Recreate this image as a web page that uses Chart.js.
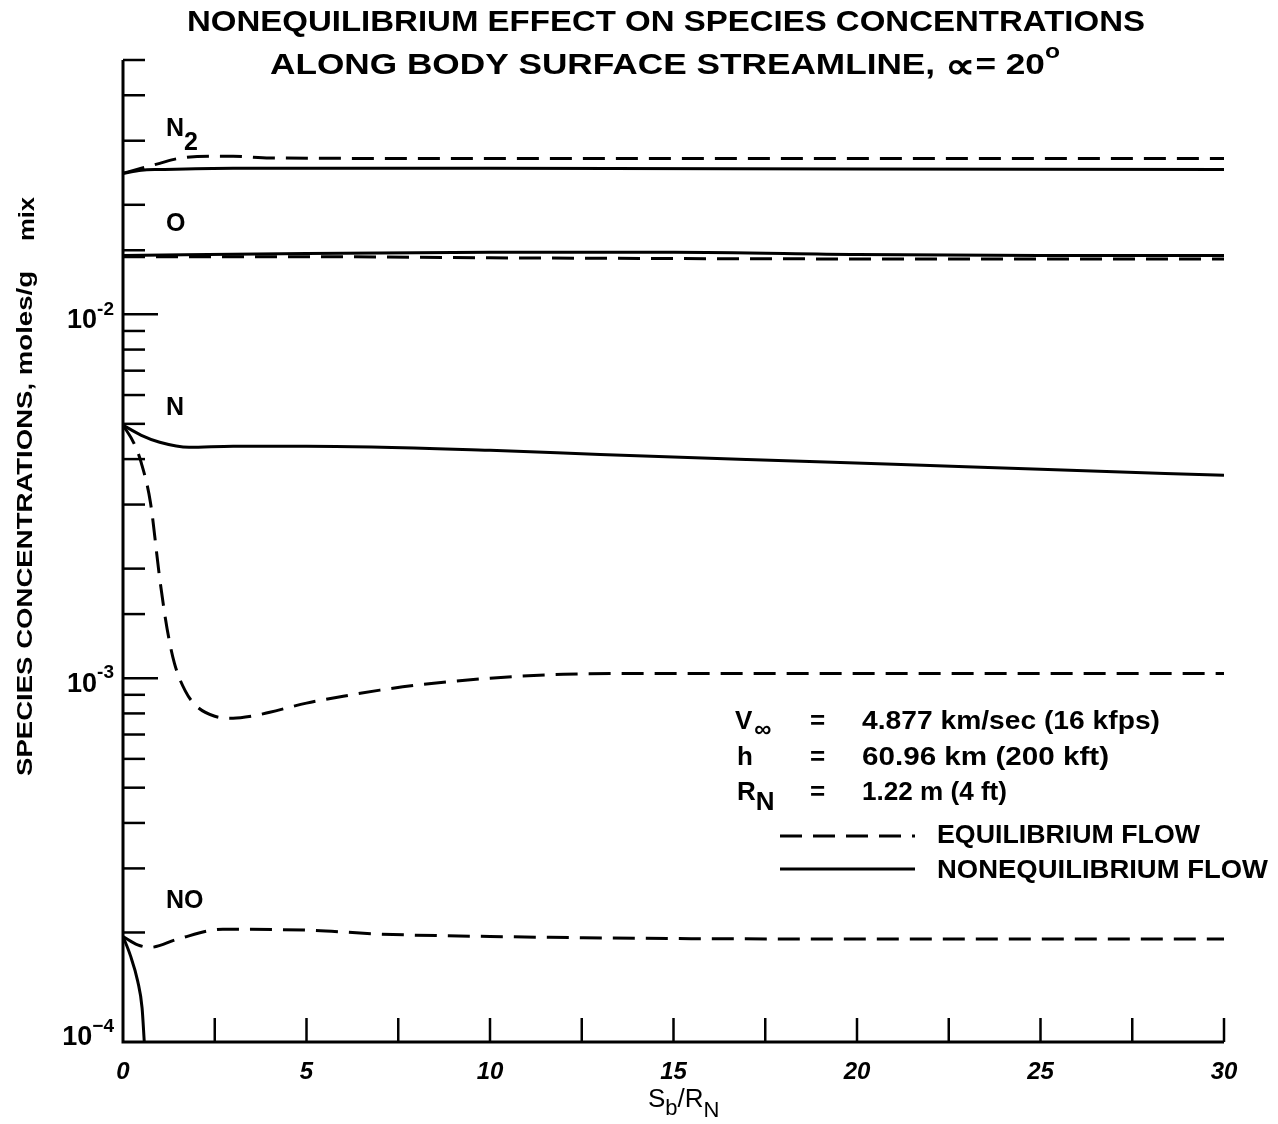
<!DOCTYPE html>
<html>
<head>
<meta charset="utf-8">
<script src="https://cdn.jsdelivr.net/npm/chart.js@4"></script>
<style>
  html, body { margin: 0; padding: 0; background: #fff; }
  #wrap { width: 1278px; height: 1124px; }
</style>
</head>
<body>
<div id="wrap"><canvas id="chart" width="1278" height="1124"></canvas></div>
<script>
// S_b/R_N positions and concentrations (moles/g mix)
const X_N2_EQ = [0, 0.5, 1, 1.5, 2.5, 3, 4, 10, 20, 30];
const Y_N2_EQ = [2.44e-2, 2.52e-2, 2.60e-2, 2.68e-2, 2.72e-2, 2.72e-2, 2.69e-2, 2.68e-2, 2.68e-2, 2.68e-2];
const X_N2_NEQ = [0, 0.5, 1, 3, 10, 20, 30];
const Y_N2_NEQ = [2.44e-2, 2.49e-2, 2.50e-2, 2.52e-2, 2.52e-2, 2.51e-2, 2.50e-2];

const X_O_EQ = [0, 5, 10, 20, 30];
const Y_O_EQ = [1.44e-2, 1.44e-2, 1.43e-2, 1.42e-2, 1.42e-2];
const X_O_NEQ = [0, 5, 10, 15, 20, 25, 30];
const Y_O_NEQ = [1.45e-2, 1.47e-2, 1.48e-2, 1.48e-2, 1.46e-2, 1.45e-2, 1.45e-2];

const X_N_EQ = [0, 0.3, 0.5, 0.75, 1.0, 1.2, 1.4, 1.7, 2.0, 2.5, 3.0, 3.5, 4, 5, 6, 7, 8, 10, 12, 14, 20, 30];
const Y_N_EQ = [4.96e-3, 4.42e-3, 3.90e-3, 3.03e-3, 1.88e-3, 1.37e-3, 1.10e-3, 9.21e-4, 8.38e-4, 7.86e-4, 7.76e-4,
                7.86e-4, 8.06e-4, 8.54e-4, 8.92e-4, 9.27e-4, 9.57e-4, 1.0e-3, 1.025e-3, 1.03e-3, 1.03e-3, 1.03e-3];
const X_N_NEQ = [0, 0.5, 1, 1.8, 3, 5, 10, 13, 17, 21, 25, 30];
const Y_N_NEQ = [4.96e-3, 4.65e-3, 4.45e-3, 4.31e-3, 4.34e-3, 4.34e-3, 4.23e-3, 4.12e-3, 3.99e-3, 3.87e-3, 3.75e-3, 3.61e-3];

const X_NO_EQ = [0, 0.4, 0.74, 1.5, 2.72, 5, 7, 10, 18, 30];
const Y_NO_EQ = [1.95e-4, 1.85e-4, 1.82e-4, 1.92e-4, 2.04e-4, 2.03e-4, 1.98e-4, 1.95e-4, 1.92e-4, 1.92e-4];
const X_NO_NEQ = [0, 0.2, 0.4, 0.52, 0.58];
const Y_NO_NEQ = [1.95e-4, 1.73e-4, 1.47e-4, 1.24e-4, 1.0e-4];

const X_TICKS = [0, 5, 10, 15, 20, 25, 30];
const Y_DECADES = [1e-4, 1e-3, 1e-2];
const Y_EXPONENTS = ["\u22124", "-3", "-2"];

const FONT = '"Liberation Sans", Arial, Helvetica, sans-serif';
const DASH = [22, 11];

const pts = (xs, ys) => xs.map((x, i) => ({ x, y: ys[i] }));

const line = (xs, ys, eq) => ({
  data: pts(xs, ys),
  borderColor: "#000",
  borderWidth: 3,
  borderDash: eq ? DASH : [],
  pointRadius: 0,
  fill: false,
  cubicInterpolationMode: "monotone",
});

// text with sub/superscript pieces: [text, size, dy, dx]
function drawRuns(ctx, runs, x, y, weight, style) {
  let cx = x;
  runs.forEach(([t, size, dy, dx]) => {
    ctx.font = `${style || ""} ${weight} ${size}px ${FONT}`;
    cx += dx || 0;
    ctx.fillText(t, cx, y + (dy || 0));
    cx += ctx.measureText(t).width;
  });
  return cx;
}

function runsWidth(ctx, runs, weight, style) {
  let w = 0;
  runs.forEach(([t, size, dy, dx]) => {
    ctx.font = `${style || ""} ${weight} ${size}px ${FONT}`;
    w += ctx.measureText(t).width + (dx || 0);
  });
  return w;
}

// draw runs squeezed/stretched to a given width
function drawFit(ctx, runs, x, y, width, weight, style) {
  const sx = width / runsWidth(ctx, runs, weight, style);
  ctx.save();
  ctx.translate(x, y);
  ctx.scale(sx, 1);
  drawRuns(ctx, runs, 0, 0, weight, style);
  ctx.restore();
}

const decor = {
  id: "decor",
  afterDraw(chart) {
    const { ctx, chartArea: a, scales } = chart;
    const xs = scales.x, ys = scales.y;
    ctx.save();
    ctx.fillStyle = "#000";
    ctx.strokeStyle = "#000";
    ctx.setLineDash([]);

    // axes
    ctx.lineWidth = 3;
    ctx.beginPath();
    ctx.moveTo(a.left, a.top);
    ctx.lineTo(a.left, a.bottom);
    ctx.lineTo(a.right, a.bottom);
    ctx.stroke();

    // inward x ticks every 2.5
    ctx.lineWidth = 2.5;
    for (let v = 2.5; v <= 30.01; v += 2.5) {
      const px = xs.getPixelForValue(v);
      ctx.beginPath();
      ctx.moveTo(px, a.bottom);
      ctx.lineTo(px, a.bottom - 24);
      ctx.stroke();
    }
    // inward log ticks on y
    ys.ticks.forEach(t => {
      const v = t.value;
      const m = v / Math.pow(10, Math.floor(Math.log10(v) + 1e-9));
      const major = Math.abs(m - 1) < 1e-6;
      if (v <= 1e-4 * 1.0001) return;
      const py = ys.getPixelForValue(v);
      ctx.beginPath();
      ctx.moveTo(a.left, py);
      ctx.lineTo(a.left + (major ? 35 : 22), py);
      ctx.stroke();
    });

    ctx.textBaseline = "middle";
    ctx.textAlign = "left";

    // y decade labels
    Y_DECADES.forEach((v, i) => {
      const py = ys.getPixelForValue(v);
      const yOff = i === 0 ? -4 : 6;
      const runs = [["10", 27, yOff], [Y_EXPONENTS[i], 19, yOff - 11]];
      const w = runsWidth(ctx, runs, "bold");
      drawRuns(ctx, runs, 114 - w, py, "bold");
    });

    // x labels
    ctx.textAlign = "center";
    ctx.font = `italic bold 24px ${FONT}`;
    X_TICKS.forEach(v => ctx.fillText(String(v), xs.getPixelForValue(v), 1072));
    ctx.textAlign = "left";

    // x title S_b/R_N
    drawRuns(ctx, [["S", 26, 0], ["b", 22, 9], ["/R", 26, 0], ["N", 22, 11]], 648, 1100, "normal");

    // y title, rotated
    ctx.save();
    ctx.translate(26, 776);
    ctx.rotate(-Math.PI / 2);
    drawFit(ctx, [["SPECIES CONCENTRATIONS, moles/g", 22, 0]], 0, 0, 505, "bold");
    drawFit(ctx, [["mix", 22, 0]], 535, 2, 44, "bold");
    ctx.restore();

    // title, condensed to the original's widths
    drawFit(ctx, [["NONEQUILIBRIUM EFFECT ON SPECIES CONCENTRATIONS", 30, 0]], 187, 23, 958, "bold");
    drawFit(ctx, [["ALONG BODY SURFACE STREAMLINE, ", 30, 0], ["\u221D", 36, 2],
                  ["= 20", 30, 0], ["o", 21, -14]], 270, 66, 790, "bold");

    // species labels
    drawRuns(ctx, [["N", 25, 0], ["2", 25, 14]], 166, 129, "bold");
    drawRuns(ctx, [["O", 25, 0]], 166, 224, "bold");
    drawRuns(ctx, [["N", 25, 0]], 166, 408, "bold");
    drawRuns(ctx, [["NO", 25, 0]], 166, 901, "bold");

    // flight condition block
    const rowsY = [722, 758, 793];
    drawRuns(ctx, [["V", 26, 0], ["\u221E", 24, 8, 2]], 735, rowsY[0], "bold");
    drawRuns(ctx, [["h", 26, 0]], 737, rowsY[1], "bold");
    drawRuns(ctx, [["R", 26, 0], ["N", 26, 10]], 737, rowsY[2], "bold");
    rowsY.forEach(y => drawRuns(ctx, [["=", 26, 0]], 810, y, "bold"));
    drawFit(ctx, [["4.877 km/sec (16 kfps)", 26, 0]], 862, rowsY[0], 298, "bold");
    drawFit(ctx, [["60.96 km (200 kft)", 26, 0]], 862, rowsY[1], 247, "bold");
    drawFit(ctx, [["1.22 m (4 ft)", 26, 0]], 862, rowsY[2], 145, "bold");

    // legend
    ctx.lineWidth = 3;
    ctx.setLineDash(DASH);
    ctx.beginPath();
    ctx.moveTo(780, 836);
    ctx.lineTo(915, 836);
    ctx.stroke();
    ctx.setLineDash([]);
    ctx.beginPath();
    ctx.moveTo(780, 869);
    ctx.lineTo(915, 869);
    ctx.stroke();
    drawFit(ctx, [["EQUILIBRIUM FLOW", 26, 0]], 937, 836, 263, "bold");
    drawFit(ctx, [["NONEQUILIBRIUM FLOW", 26, 0]], 937, 871, 331, "bold");

    ctx.restore();
  },
};

new Chart(document.getElementById("chart"), {
  type: "line",
  data: {
    datasets: [
      line(X_N2_EQ, Y_N2_EQ, true),
      line(X_N2_NEQ, Y_N2_NEQ, false),
      line(X_O_EQ, Y_O_EQ, true),
      line(X_O_NEQ, Y_O_NEQ, false),
      line(X_N_EQ, Y_N_EQ, true),
      line(X_N_NEQ, Y_N_NEQ, false),
      line(X_NO_EQ, Y_NO_EQ, true),
      line(X_NO_NEQ, Y_NO_NEQ, false),
    ],
  },
  options: {
    responsive: false,
    animation: false,
    layout: { padding: { left: 123, right: 54, top: 60, bottom: 82 } },
    plugins: { legend: { display: false }, tooltip: { enabled: false } },
    scales: {
      x: { type: "linear", min: 0, max: 30, display: false },
      y: { type: "logarithmic", min: 1e-4, max: 5e-2, display: false },
    },
  },
  plugins: [decor],
});
</script>
</body>
</html>
